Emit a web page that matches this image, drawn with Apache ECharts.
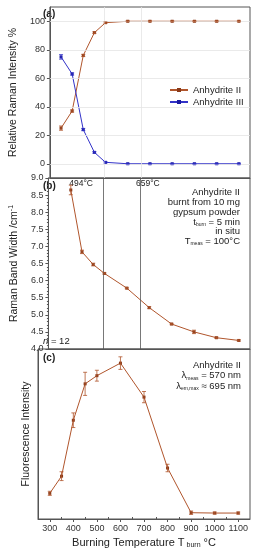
<!DOCTYPE html>
<html><head><meta charset="utf-8">
<script src="https://cdn.jsdelivr.net/npm/echarts@6/dist/echarts.min.js"></script>
<style>html,body{margin:0;padding:0;background:#fff}#c{width:255px;height:550px}</style>
</head><body><div id="c"></div>
<script>
const temps = [300,350,400,450,500,600,700,800,900,1000,1100];
const anhII = [25,37,76,92,99,100,100,100,100,100,100];
const anhIIErr = [1.5,0.8,0.8,0.6,0.5,0.3,0.3,0.3,0.3,0.3,0.3];
const anhIII = [75,63,24,8,1,0,0,0,0,0,0];
const anhIIIErr = [1.6,0.8,0.8,0.6,0.5,0.3,0.3,0.3,0.3,0.3,0.3];
const bandTemps = [350,400,450,500,600,700,800,900,1000,1100];
const bandWidth = [8.65,6.84,6.47,6.21,5.78,5.21,4.73,4.5,4.33,4.25];
const bandErr = [0.14,0.05,0.04,0.02,0.02,0.03,0.02,0.05,0.02,0.02];
const fluo = [15.1,25.2,58.1,79.5,84.3,91.7,71.7,30,3.7,3.5,3.5];
const fluoErr = [1.2,2.6,4.3,6.8,3.2,3.7,3.3,2.2,1,0.6,0.6];
const xTicks = [300,400,500,600,700,800,900,1000,1100];
const xMinorTicks = [350,450,550,650,750,850,950,1050];
const aTicks = [0,20,40,60,80,100];
const transitions = [494,659];

const brown = '#b0552c', brownDark = '#8a3a18', blue = '#3232c8';
const FONT = 'Liberation Sans';
const axCol = '#555';

function zip(xs, ys){ return xs.map((x,i)=>[x, ys[i]]); }
function errData(xs, ys, es){ return xs.map((x,i)=>[x, ys[i]-es[i], ys[i]+es[i]]); }
function errSeries(xi, yi, data, color){
  return {type:'custom', xAxisIndex:xi, yAxisIndex:yi, silent:true, z:5,
    data: data,
    renderItem: function(params, api){
      const lo = api.coord([api.value(0), api.value(1)]);
      const hi = api.coord([api.value(0), api.value(2)]);
      const w = 2;
      const st = {stroke: color, lineWidth: 0.8};
      return {type:'group', children:[
        {type:'line', shape:{x1:lo[0],y1:lo[1],x2:hi[0],y2:hi[1]}, style:st},
        {type:'line', shape:{x1:lo[0]-w,y1:lo[1],x2:lo[0]+w,y2:lo[1]}, style:st},
        {type:'line', shape:{x1:hi[0]-w,y1:hi[1],x2:hi[0]+w,y2:hi[1]}, style:st}
      ]};
    }};
}
function xAx(gi, showLabels){
  return {type:'value', gridIndex:gi, min:250, max:1150,
    axisLine:{show:true, onZero:false, lineStyle:{color:axCol}},
    axisTick:{show:showLabels, customValues:xTicks, length:3, lineStyle:{color:axCol}},
    axisLabel:{show:showLabels, customValues:xTicks, fontSize:9, color:'#333', fontFamily:FONT, margin:5, formatter:v=>String(v)},
    splitLine:{show:false},
    name: showLabels ? 'Burning Temperature T{sub|burn} °C' : '',
    nameLocation:'middle', nameGap:17,
    nameTextStyle:{fontSize:11, color:'#222', fontFamily:FONT, rich:{sub:{fontSize:7, verticalAlign:'bottom', padding:[6,0,0,2], fontFamily:FONT, color:'#222'}}}
  };
}
const chart = echarts.init(document.getElementById('c'), null, {renderer:'canvas'});
const option = {
  animation:false,
  grid:[
    {left:38, right:5, top:7, height:171, show:true, borderColor:axCol, borderWidth:1},
    {left:38, right:5, top:178, height:171, show:true, borderColor:axCol, borderWidth:1},
    {left:38, right:5, top:349, height:172, show:true, borderColor:axCol, borderWidth:1}
  ],
  xAxis:[ xAx(0,false), xAx(1,false), xAx(2,true),
    {type:'value', gridIndex:2, min:250, max:1150, axisLine:{show:false},
     axisTick:{show:true, customValues:xMinorTicks, length:2, lineStyle:{color:axCol}},
     axisLabel:{show:false}, splitLine:{show:false}}
  ],
  yAxis:[
    {type:'value', gridIndex:0, min:-10, max:110,
     axisLine:{show:true, onZero:false, lineStyle:{color:axCol}},
     axisTick:{show:true, customValues:aTicks, length:3, lineStyle:{color:axCol}},
     axisLabel:{customValues:aTicks, fontSize:9, color:'#333', fontFamily:FONT, margin:5},
     splitLine:{show:false},
     name:'Relative Raman Intensity %', nameLocation:'middle', nameGap:23,
     nameTextStyle:{fontSize:10.5, color:'#222', fontFamily:FONT}},
    {type:'value', gridIndex:1, min:4, max:9, interval:0.5,
     axisLine:{show:true, onZero:false, lineStyle:{color:axCol}},
     axisTick:{show:true, length:3, lineStyle:{color:axCol}},
     minorTick:{show:true, splitNumber:5, length:1.5, lineStyle:{color:axCol}},
     axisLabel:{fontSize:9, color:'#333', fontFamily:FONT, margin:5, formatter:v=>v.toFixed(1)},
     splitLine:{show:false},
     name:'Raman Band Width /cm{sup|-1}', nameLocation:'middle', nameGap:23,
     nameTextStyle:{fontSize:10.5, color:'#222', fontFamily:FONT, rich:{sup:{fontSize:7, verticalAlign:'top', padding:[0,0,6,0], fontFamily:FONT, color:'#222'}}}},
    {type:'value', gridIndex:2, min:0, max:100,
     axisLine:{show:true, onZero:false, lineStyle:{color:axCol}},
     axisTick:{show:false}, axisLabel:{show:false}, splitLine:{show:false},
     name:'Fluorescence Intensity', nameLocation:'middle', nameGap:6,
     nameTextStyle:{fontSize:10.5, color:'#222', fontFamily:FONT}}
  ],
  legend:{data:['Anhydrite II','Anhydrite III'], orient:'vertical', left:164, top:80,
    itemWidth:18, itemHeight:5, itemGap:2,
    textStyle:{fontSize:9.5, color:'#222', fontFamily:FONT}},
  series:[
    {name:'grid-a', type:'line', xAxisIndex:0, yAxisIndex:0, data:[], silent:true,
     markLine:{silent:true, symbol:'none', label:{show:false},
       lineStyle:{color:'#e4e4e4', width:0.8, type:'solid'},
       data: aTicks.map(v=>({yAxis:v})).concat(transitions.map(v=>({xAxis:v})))}},
    errSeries(0,0, errData(temps, anhII, anhIIErr), brown),
    errSeries(0,0, errData(temps, anhIII, anhIIIErr), blue),
    {name:'Anhydrite II', type:'line', xAxisIndex:0, yAxisIndex:0, data:zip(temps, anhII),
     symbol:'rect', symbolSize:3, itemStyle:{color:brownDark}, lineStyle:{color:brown, width:1}, z:4},
    {name:'Anhydrite III', type:'line', xAxisIndex:0, yAxisIndex:0, data:zip(temps, anhIII),
     symbol:'rect', symbolSize:3, itemStyle:{color:'#1a1aa0'}, lineStyle:{color:blue, width:1}, z:4},
    errSeries(1,1, errData(bandTemps, bandWidth, bandErr), brown),
    {name:'band', type:'line', xAxisIndex:1, yAxisIndex:1, data:zip(bandTemps, bandWidth),
     symbol:'rect', symbolSize:3, itemStyle:{color:brownDark}, lineStyle:{color:brown, width:1}, z:4,
     markLine:{silent:true, symbol:'none', label:{show:false},
       lineStyle:{color:'#555', width:0.8, type:'solid'},
       data: transitions.map(v=>({xAxis:v}))}},
    errSeries(2,2, errData(temps, fluo, fluoErr), brown),
    {name:'fluo', type:'line', xAxisIndex:2, yAxisIndex:2, data:zip(temps, fluo),
     symbol:'rect', symbolSize:3, itemStyle:{color:brownDark}, lineStyle:{color:brown, width:1}, z:4}
  ],
  graphic:[
    {type:'text', left:43, top:9, style:{text:'(a)', fontSize:10, fontWeight:'bold', fill:'#222', fontFamily:FONT}},
    {type:'text', left:43, top:181, style:{text:'(b)', fontSize:10, fontWeight:'bold', fill:'#222', fontFamily:FONT}},
    {type:'text', left:43, top:353, style:{text:'(c)', fontSize:10, fontWeight:'bold', fill:'#222', fontFamily:FONT}},
    {type:'text', x:93, y:184, style:{text:'494°C', fontSize:8.5, fill:'#222', fontFamily:FONT, align:'right', verticalAlign:'middle'}},
    {type:'text', x:136, y:184, style:{text:'659°C', fontSize:8.5, fill:'#222', fontFamily:FONT, align:'left', verticalAlign:'middle'}},
    {type:'text', x:240, y:188, style:{
      text:'Anhydrite II\nburnt from 10 mg\ngypsum powder\nt{sub|burn} = 5 min\nin situ\nT{sub|meas} = 100°C',
      fontSize:9.5, lineHeight:9.7, fill:'#222', fontFamily:FONT, align:'right', verticalAlign:'top',
      rich:{sub:{fontSize:5, lineHeight:9.7, verticalAlign:'bottom', fill:'#222', fontFamily:FONT}}}},
    {type:'text', x:43, y:341, style:{text:'{i|n} = 12', fontSize:9.5, fill:'#222', fontFamily:FONT, verticalAlign:'middle',
      rich:{i:{fontStyle:'italic', fontSize:9.5, fill:'#222', fontFamily:FONT}}}},
    {type:'text', x:241, y:360, style:{
      text:'Anhydrite II\nλ{sub|meas} = 570 nm\nλ{sub|em,max} ≈ 695 nm',
      fontSize:9.5, lineHeight:10.4, fill:'#222', fontFamily:FONT, align:'right', verticalAlign:'top',
      rich:{sub:{fontSize:5, lineHeight:10.4, verticalAlign:'bottom', fill:'#222', fontFamily:FONT}}}}
  ]
};
chart.setOption(option);
</script></body></html>
